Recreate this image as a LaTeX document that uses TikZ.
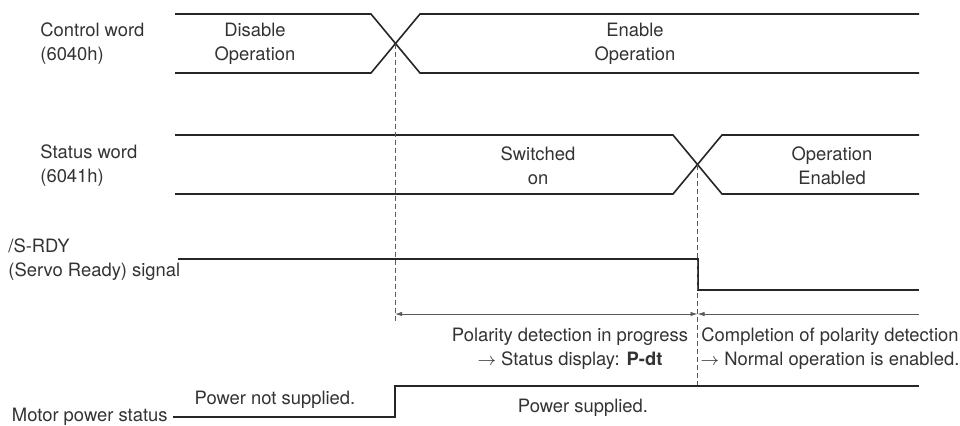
\documentclass[tikz,border=0pt]{standalone}
\usepackage{fontspec}
\setmainfont{TeX Gyre Heros}
\usetikzlibrary{arrows.meta}
\begin{document}
\begin{tikzpicture}[x=0.5pt,y=-0.5pt,>={Latex[length=3.5pt,width=2.2pt]},
  font=\fontsize{9.2}{12}\selectfont,
  bus/.style={line width=0.8pt,black!85},
  sig/.style={line width=1.1pt,black!85},
  guide/.style={gray!70!black,line width=0.4pt,dash pattern=on 2.5pt off 1.5pt},
  dim/.style={gray!70!black,line width=0.4pt},
  lbl/.style={align=left,anchor=west,inner sep=0pt,text=black!80},
  txt/.style={align=center,text=black!80}]
\useasboundingbox (0,0) rectangle (960,425);
% signal names
\node[lbl] (cwname) at (40,44) {Control word\\(6040h)};
\node[lbl] (swname) at (40,166) {Status word\\(6041h)};
\node[lbl] (rdyname) at (8,260) {/S-RDY\\(Servo Ready) signal};
\node[lbl,anchor=east] (pwrname) at (168,417) {Motor power status};
% control word
\draw[bus] (175,14)--(371,14)--(420,73)--(919,73);
\draw[bus] (175,73)--(371,73)--(420,14)--(919,14);
\node[txt] (disop) at (255,44) {Disable\\Operation};
\node[txt] (enop) at (635,44) {Enable\\Operation};
% status word
\draw[bus] (175,135)--(673,135)--(722,194)--(919,194);
\draw[bus] (175,194)--(673,194)--(722,135)--(919,135);
\node[txt] (swon) at (538,166) {Switched\\on};
\node[txt] (openab) at (832,166) {Operation\\Enabled};
% /S-RDY
\draw[sig] (178,259)--(698,259)--(698,290)--(919,290);
% motor power
\draw[sig] (173,417)--(395,417)--(395,386)--(919,386);
\node[txt] (pwroff) at (275,400) {Power not supplied.};
\node[txt] (pwron) at (583,408) {Power supplied.};
% guides and timing
\coordinate (x1) at (395,43.5);
\coordinate (x2) at (697.5,164.5);
\draw[guide] (x1)--(395,323);
\draw[guide] (x2)--(697.5,385);
\coordinate (t1) at (395,314);
\coordinate (t2) at (697.5,314);
\coordinate (tend) at (919,314);
\draw[dim,<->] (t1)--(t2);
\draw[dim,<-] (t2)--(tend);
\node[txt] (pdet) at (570,349) {Polarity detection in progress\\$\rightarrow$ Status display: \textbf{P-dt}};
\node[txt] (pdone) at (830,349) {Completion of polarity detection\\$\rightarrow$ Normal operation is enabled.};
\end{tikzpicture}
\end{document}
